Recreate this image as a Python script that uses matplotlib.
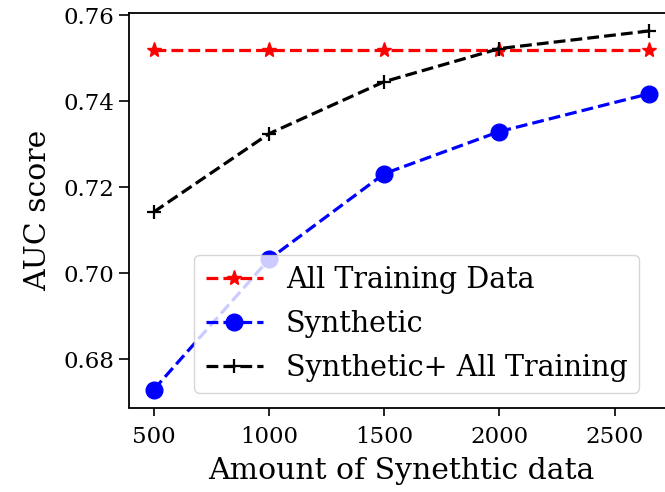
import matplotlib
matplotlib.use("Agg")
import matplotlib.pyplot as plt

plt.rcParams['font.family'] = ['DejaVu Serif']

amounts = [500, 1000, 1500, 2000, 2650]
all_training = [0.752, 0.752, 0.752, 0.752, 0.752]
synthetic = [0.673, 0.7033, 0.7232, 0.733, 0.7418]
synthetic_plus_all = [0.7143, 0.7325, 0.7446, 0.7523, 0.7564]

W, H = 665, 492
fig = plt.figure(figsize=(W / 100, H / 100), dpi=100)
# axes run slightly past the right edge of the canvas
ax = fig.add_axes([129 / W, 1 - 407.5 / H, 545 / W, 394.5 / H])

ax.plot(amounts, all_training, 'r--*', lw=2.3, markersize=11, label='All Training Data')
ax.plot(amounts, synthetic, 'b--o', lw=2.3, markersize=12, label='Synthetic')
ax.plot(amounts, synthetic_plus_all, 'k--+', lw=2.3, markersize=10, mew=1.6,
        label='Synthetic+ All Training')

ax.set_xticks([500, 1000, 1500, 2000, 2500])
ax.set_yticks([0.68, 0.70, 0.72, 0.74, 0.76])
ax.tick_params(labelsize=16.5, width=1.2)
ax.tick_params(axis='x', length=6, pad=7)
ax.tick_params(axis='y', length=7.5, pad=3)
for s in ax.spines.values():
    s.set_linewidth(1.3)
ax.set_xlabel('Amount of Synethtic data', fontsize=21.5, labelpad=7)
ax.set_ylabel('AUC score', fontsize=21.5, labelpad=8)
ax.legend(loc='lower right', fontsize=20.6, bbox_to_anchor=(639 / W, 1 - 393 / H),
          bbox_transform=fig.transFigure, borderaxespad=0, labelspacing=0.55)

fig.savefig('out.png', dpi=100)
